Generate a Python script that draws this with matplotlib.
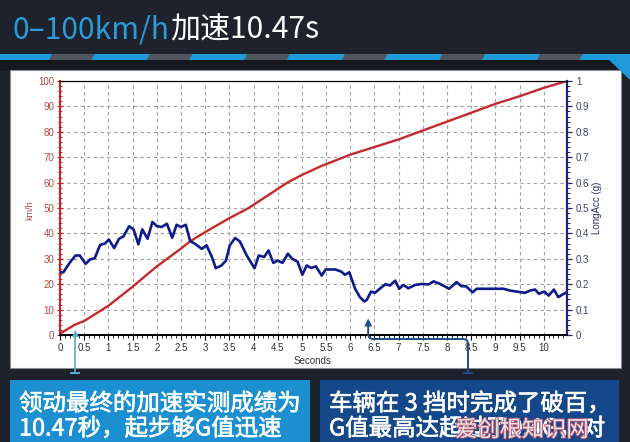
import matplotlib
matplotlib.use('Agg')
import matplotlib.pyplot as plt
from matplotlib.patches import Rectangle, Polygon, PathPatch
from matplotlib.path import Path
from matplotlib.ticker import MultipleLocator
import matplotlib.patheffects as pe

plt.rcParams['font.family'] = ['Noto Sans CJK SC', 'DejaVu Sans']

# ---------------- data ----------------
time_speed = [0, 0.3, 0.5, 1.0, 1.5, 2.0, 2.5, 2.7, 3.0, 3.5, 3.9, 4.3, 4.7, 5.0,
              5.4, 6.0, 6.5, 7.0, 7.5, 8.0, 8.5, 9.0, 9.5, 10.0, 10.48]
speed_kmh = [0.5, 4, 5.5, 11.5, 19, 27, 34, 37, 40.5, 46, 50, 55, 60, 63,
             66.5, 71, 74, 77, 80.5, 84, 87.5, 91, 94, 97.3, 100]

time_acc = [0, 0.07, 0.21, 0.32, 0.41, 0.53, 0.62, 0.72, 0.83, 0.93, 1.01, 1.12, 1.22,
            1.31, 1.43, 1.52, 1.62, 1.70, 1.81, 1.91, 2.00, 2.10, 2.21, 2.32, 2.41, 2.50,
            2.60, 2.69, 2.79, 2.93, 3.03, 3.14, 3.22, 3.34, 3.43, 3.51, 3.62, 3.72, 3.86,
            4.02, 4.11, 4.22, 4.31, 4.41, 4.50, 4.60, 4.71, 4.80, 4.91, 5.01, 5.10, 5.19,
            5.29, 5.41, 5.49, 5.69, 5.81, 5.89, 5.98, 6.10, 6.20, 6.29, 6.34, 6.43, 6.51,
            6.62, 6.73, 6.82, 6.93, 7.01, 7.10, 7.20, 7.34, 7.48, 7.62, 7.72, 7.86, 8.04,
            8.20, 8.30, 8.39, 8.53, 8.61, 8.79, 8.99, 9.17, 9.30, 9.44, 9.61, 9.72, 9.82,
            9.90, 10.01, 10.10, 10.21, 10.30, 10.41, 10.48]
acc_g = [0.247, 0.247, 0.287, 0.313, 0.313, 0.28, 0.297, 0.303, 0.355, 0.36, 0.376, 0.342,
         0.379, 0.388, 0.428, 0.416, 0.357, 0.416, 0.379, 0.445, 0.429, 0.425, 0.438, 0.383,
         0.434, 0.425, 0.434, 0.37, 0.359, 0.339, 0.353, 0.307, 0.263, 0.274, 0.293, 0.353,
         0.382, 0.368, 0.313, 0.263, 0.313, 0.307, 0.333, 0.284, 0.293, 0.284, 0.32, 0.30,
         0.289, 0.237, 0.274, 0.264, 0.27, 0.234, 0.258, 0.258, 0.25, 0.237, 0.247, 0.182,
         0.149, 0.132, 0.138, 0.171, 0.166, 0.184, 0.2, 0.195, 0.214, 0.182, 0.197, 0.184,
         0.197, 0.201, 0.199, 0.211, 0.201, 0.182, 0.208, 0.192, 0.192, 0.168, 0.182, 0.182,
         0.182, 0.182, 0.175, 0.171, 0.166, 0.175, 0.179, 0.162, 0.171, 0.155, 0.179, 0.149,
         0.162, 0.168]

x_ticks = [0, 0.5, 1, 1.5, 2, 2.5, 3, 3.5, 4, 4.5, 5, 5.5, 6, 6.5, 7, 7.5, 8, 8.5, 9, 9.5, 10]
x_tick_labels = ['0', '0.5', '1', '1.5', '2', '2.5', '3', '3.5', '4', '4.5', '5', '5.5',
                 '6', '6.5', '7', '7.5', '8', '8.5', '9', '9.5', '10']
speed_ticks = [0, 10, 20, 30, 40, 50, 60, 70, 80, 90, 100]
acc_ticks = [0, 0.1, 0.2, 0.3, 0.4, 0.5, 0.6, 0.7, 0.8, 0.9, 1]
acc_tick_labels = ['0', '0.1', '0.2', '0.3', '0.4', '0.5', '0.6', '0.7', '0.8', '0.9', '1']

title_blue = '0–100km/h'
title_white = '加速10.47s'
left_box_lines = ['领动最终的加速实测成绩为', '10.47秒，起步够G值迅速']
right_box_lines = ['车辆在 3 挡时完成了破百，', 'G值最高达超过了0.4G，对']
watermark = '爱创根知识网'

# ---------------- figure ----------------
W, H = 630, 442
fig = plt.figure(figsize=(W / 100, H / 100), dpi=100)
fig.patch.set_facecolor('#1d222c')

bg = fig.add_axes([0, 0, 1, 1], zorder=0)
bg.set_xlim(0, W)
bg.set_ylim(H, 0)
bg.axis('off')


def rect(x0, y0, x1, y1, color, **kw):
    p = Rectangle((x0, y0), x1 - x0, y1 - y0, facecolor=color, **kw)
    bg.add_patch(p)
    return p


rect(0, 0, W, H, '#1d222c', edgecolor='none')
# stripe
rect(0, 54, W, 60, '#50565f', edgecolor='none')
for k in range(8):
    x0 = -6 + 97.6 * k
    bg.add_patch(Polygon([(x0, 60), (x0 + 55, 60), (x0 + 58, 54), (x0 + 3, 54)],
                         closed=True, facecolor='#1f9ad8', edgecolor='none'))
rect(0, 60, W, 71, '#15181e', edgecolor='none')
# white panel
rect(10, 70, 621, 368, 'white', edgecolor='#8a8d92', linewidth=0.8)
bg.add_patch(Polygon([(606, 57), (630, 57), (630, 80)], closed=True,
                     facecolor='#1f9ad8', edgecolor='none'))

# title
t1 = bg.text(12, 39, title_blue, color='#2d9bd6', fontsize=21.6, va='baseline',
             ha='left', fontweight='light')
fig.canvas.draw()
r = fig.canvas.get_renderer()
bb = t1.get_window_extent(renderer=r)
bg.text(bb.x1 + 1, 39, title_white, color='white', fontsize=21.6, va='baseline',
        ha='left', fontweight='light')

# bottom boxes
lb = rect(10, 380, 310, 442, '#1b8fcf', edgecolor='none')
rb = rect(320, 380, 619, 442, '#15488a', edgecolor='none')
thick = [pe.withStroke(linewidth=0.45, foreground='white')]
for i, line in enumerate(left_box_lines):
    t = bg.text(19, 404 + 25 * i, line, color='white', fontsize=16.9, va='center',
                ha='left')
    t.set_path_effects(thick)
    t.set_clip_path(lb)
for i, line in enumerate(right_box_lines):
    t = bg.text(329, 404 + 25 * i, line, color='white', fontsize=16.9, va='center',
                ha='left')
    t.set_path_effects(thick)
    t.set_clip_path(rb)
wm = bg.text(522, 430, watermark, color='#f3ecee', fontsize=16, va='center', ha='center',
             alpha=0.95)
wm.set_path_effects([pe.withStroke(linewidth=1.4, foreground='#b85a72')])

# ---------------- chart ----------------
ax = fig.add_axes([60 / W, (H - 335) / H, 507 / W, 254 / H], zorder=2)
ax.set_facecolor('white')
ax.plot(time_speed, speed_kmh, color='#c42a2a', lw=1.7, zorder=3)
ax.set_xlim(0, 10.48)
ax.set_ylim(0, 100)

ax2 = ax.twinx()
ax2.plot(time_acc, acc_g, color='#0e1b8a', lw=1.9, zorder=3)
ax2.set_ylim(0, 1)

grid_kw = dict(color='#a0a0a0', linestyle=(0, (3, 3)), linewidth=0.8)
ax.grid(True, which='major', **grid_kw)
ax.set_axisbelow(True)

tickfont = ['Liberation Sans', 'DejaVu Sans']
ax.set_xticks(x_ticks)
ax.set_xticklabels(x_tick_labels, fontsize=7, color='#333333', family=tickfont)
ax.xaxis.set_minor_locator(MultipleLocator(0.1))
ax.tick_params(axis='x', which='major', direction='out', length=3.5, width=0.8, pad=2.5)
ax.tick_params(axis='x', which='minor', direction='out', length=1.8, width=0.6)

ax.set_yticks(speed_ticks)
ax.set_yticklabels([str(v) for v in speed_ticks], fontsize=7, color='#b04848', family=tickfont)
ax.yaxis.set_minor_locator(MultipleLocator(2))
ax.tick_params(axis='y', which='major', direction='inout', length=4.5, width=0.9,
               color='#c0282d', pad=2)
ax.tick_params(axis='y', which='minor', direction='inout', length=2.5, width=0.7,
               color='#c0282d')

ax2.set_yticks(acc_ticks)
ax2.set_yticklabels(acc_tick_labels, fontsize=7, color='#3a3e6c', family=tickfont)
ax2.yaxis.set_minor_locator(MultipleLocator(0.02))
ax2.tick_params(axis='y', which='major', direction='out', length=3.5, width=0.9,
                color='#1a237e', pad=3)
ax2.tick_params(axis='y', which='minor', direction='out', length=2, width=0.7,
                color='#1a237e')

for a in (ax, ax2):
    a.spines['top'].set_color('black')
    a.spines['top'].set_linewidth(0.8)
    a.spines['bottom'].set_color('black')
    a.spines['bottom'].set_linewidth(1.3)
ax.spines['left'].set_color('#c0282d')
ax.spines['left'].set_linewidth(1.5)
ax.spines['right'].set_visible(False)
ax2.spines['left'].set_visible(False)
ax2.spines['right'].set_color('#1a237e')
ax2.spines['right'].set_linewidth(1.6)

bg.text(30, 210, 'km/h', rotation=90, color='#b04848', fontsize=6.5, va='center',
        ha='center', family=tickfont)
bg.text(597, 208, 'LongAcc (g)', rotation=90, color='#2a2f6a', fontsize=7, va='center',
        ha='center', family=tickfont)
bg.text(313, 361, 'Seconds', color='#333333', fontsize=7, va='center', ha='center',
        family=tickfont)

# ---------------- annotation arrows ----------------
ov = fig.add_axes([0, 0, 1, 1], zorder=5)
ov.set_xlim(0, W)
ov.set_ylim(H, 0)
ov.axis('off')
ov.patch.set_visible(False)


def to_px(axis, x, y):
    px, py = axis.transData.transform((x, y))
    return px, H - py


# teal arrow from speed curve start
tx, ty = to_px(ax, 0.32, 2.0)
teal = '#5aaed2'
ov.plot([tx, tx], [ty + 5, 373], color=teal, lw=1.2, solid_capstyle='butt')
ov.plot([tx - 4, tx + 4], [373, 373], color=teal, lw=1.4)
ov.add_patch(Polygon([(tx, ty), (tx - 3.5, ty + 7), (tx + 3.5, ty + 7)], closed=True,
                     facecolor=teal, edgecolor='none'))

# dark blue arrow from acceleration dip
bx, by = to_px(ax2, 6.37, 0.065)
dblue = '#1f4e8a'
ex = 468
hy = 339
verts = [(bx, by + 5), (bx, hy - 5), (bx, hy), (bx + 5, hy), (ex - 5, hy), (ex, hy),
         (ex, hy + 5), (ex, 373)]
codes = [Path.MOVETO, Path.LINETO, Path.CURVE3, Path.CURVE3, Path.LINETO, Path.CURVE3,
         Path.CURVE3, Path.LINETO]
ov.add_patch(PathPatch(Path(verts, codes), facecolor='none', edgecolor=dblue, lw=1.4))
ov.plot([ex - 4, ex + 4], [373, 373], color=dblue, lw=1.4)
ov.add_patch(Polygon([(bx, by), (bx - 4, by + 8), (bx + 4, by + 8)], closed=True,
                     facecolor=dblue, edgecolor='none'))

fig.savefig('out.png', dpi=100, facecolor=fig.get_facecolor())
